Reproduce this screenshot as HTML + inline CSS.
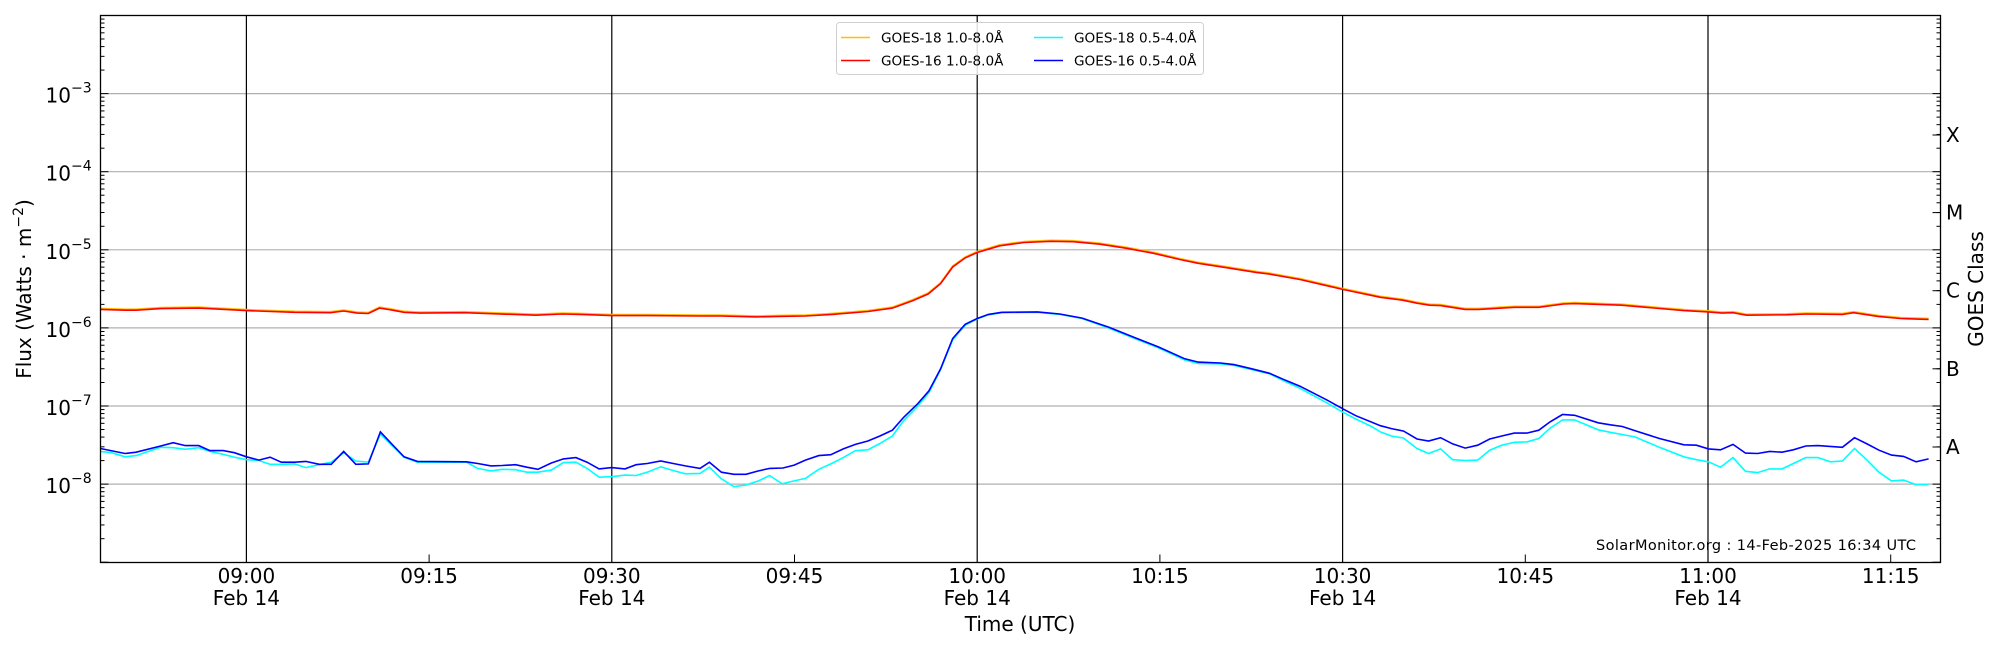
<!DOCTYPE html>
<html><head><meta charset="utf-8"><style>
html,body{margin:0;padding:0;background:#fff;}
svg{display:block;font-family:"DejaVu Sans","Liberation Sans",sans-serif;}
</style></head><body>
<svg id="s" width="2000" height="650" viewBox="0 0 2000 650" xmlns="http://www.w3.org/2000/svg">
<rect width="2000" height="650" fill="#fff"/>
<g id="grid"></g>
<g id="series"></g>
<g id="ticks" stroke="#000" stroke-width="1"></g>
<rect x="100.5" y="15.5" width="1840" height="547" fill="none" stroke="#000" stroke-width="1.3"/>
<g id="labels" font-size="20" fill="#000"></g>
<!-- legend -->
<rect x="836.5" y="22.5" width="367" height="52" rx="3" fill="#fff" fill-opacity="0.85" stroke="#d0d0d0"/>
<line x1="841" y1="37.5" x2="870" y2="37.5" stroke="#ffc000" stroke-width="1.5"/>
<line x1="841" y1="60.5" x2="870" y2="60.5" stroke="#ff0000" stroke-width="1.5"/>
<line x1="1034" y1="37.5" x2="1063" y2="37.5" stroke="#00ffff" stroke-width="1.5"/>
<line x1="1034" y1="60.5" x2="1063" y2="60.5" stroke="#0000ff" stroke-width="1.5"/>
<g font-size="13.6" fill="#000">
<text x="881" y="42.5">GOES-18 1.0-8.0Å</text>
<text x="881" y="65.5">GOES-16 1.0-8.0Å</text>
<text x="1074" y="42.5">GOES-18 0.5-4.0Å</text>
<text x="1074" y="65.5">GOES-16 0.5-4.0Å</text>
</g>
<text x="1596" y="550" font-size="14.5" textLength="320" fill="#000">SolarMonitor.org : 14-Feb-2025 16:34 UTC</text>
<text x="1020" y="631" font-size="20" text-anchor="middle" fill="#000">Time (UTC)</text>
<text transform="translate(31,289) rotate(-90)" font-size="20" text-anchor="middle" fill="#000">Flux (Watts · m<tspan dy="-8" font-size="14">−2</tspan><tspan dy="8">)</tspan></text>
<text transform="translate(1983,289) rotate(-90)" font-size="20" text-anchor="middle" fill="#000">GOES Class</text>
</svg>
<script>
(function(){
var NS="http://www.w3.org/2000/svg";
function el(p,n,a,t){var e=document.createElementNS(NS,n);for(var k in a)e.setAttribute(k,a[k]);if(t!=null)e.textContent=t;p.appendChild(e);return e;}
var L=100.5,R=1940.5,T=15.5,B=562.5;
var dec=78.1, y2=15.5;
function ylog(l){return y2+(-2-l)*dec;}
var grid=document.getElementById('grid'),ticks=document.getElementById('ticks'),lab=document.getElementById('labels'),ser=document.getElementById('series');
for(var e=-8;e<=-3;e++){var y=ylog(e);el(grid,'line',{x1:L,x2:R,y1:y,y2:y,stroke:'#b0b0b0','stroke-width':1.2});
 el(lab,'text',{x:71,y:y+9,'text-anchor':'end'},'10');
 el(lab,'text',{x:71,y:y-1,'font-size':14},'−'+(-e));}
for(var e=-9;e<-2;e++){for(var m=1;m<10;m++){var y=ylog(e+Math.log10(m));if(y<T||y>B)continue;var len=m==1?8:4;
 el(ticks,'line',{x1:L,x2:L+len,y1:y,y2:y});el(ticks,'line',{x1:R,x2:R-len,y1:y,y2:y});}}
var cl=[['X',135],['M',212.6],['C',290.7],['B',368.8],['A',447]];
cl.forEach(function(c){el(ticks,'line',{x1:R,x2:R-8,y1:c[1],y2:c[1]});el(lab,'text',{x:1946,y:c[1]+7},c[0]);});
var x0=246.4,pm=12.18;
var times=['09:00','09:15','09:30','09:45','10:00','10:15','10:30','10:45','11:00','11:15'];
for(var i=0;i<times.length;i++){var x=x0+i*15*pm;
 if(i%2==0){el(grid,'line',{x1:x,x2:x,y1:T,y2:B,stroke:'#000','stroke-width':1.2});el(lab,'text',{x:x,y:605,'text-anchor':'middle'},'Feb 14');}
 else el(ticks,'line',{x1:x,x2:x,y1:B,y2:B-8});
 el(lab,'text',{x:x,y:583,'text-anchor':'middle'},times[i]);}
function P(arr,off){return arr.map(function(p){return (off+p[0]/2.24).toFixed(1)+','+(p[1]/2.408).toFixed(1);}).join(' ');}
var red=P([[225,745],[280,747],[305,747],[360,743],[445,742],[552,748],[660,752],[740,753],[770,749],[800,754],[825,755],[850,742],[875,746],[905,752],[940,754],[1040,753],[1200,759],[1260,756],[1300,757],[1372,760],[1450,760],[1568,761]],0)+' '+
P([[270,761],[350,763],[400,762],[460,761],[520,757],[600,750],[655,742],[700,724],[735,708],[763,683],[790,643],[818,621],[845,608],[870,600],[895,592],[950,584],[1010,581],[1060,582],[1120,588],[1180,598],[1240,610],[1300,625],[1340,634],[1400,644],[1470,656],[1500,660],[1568,673]],600)+' '+
P([[60,688],[97,697],[180,716],[230,723],[262,730],[290,735],[315,736],[370,745],[400,745],[480,740],[535,740],[590,732],[615,731],[720,735],[860,748],[915,751],[945,754],[970,753],[1000,759],[1090,758],[1135,756],[1215,757],[1240,753],[1295,762],[1345,767],[1408,769]],1300);
var blue=P([[225,1080],[280,1092],[305,1089],[360,1074],[388,1066],[415,1073],[445,1073],[470,1085],[500,1085],[525,1090],[552,1100],[580,1108],[605,1101],[630,1113],[660,1113],[685,1111],[715,1118],[742,1118],[770,1087],[797,1118],[825,1117],[852,1040],[880,1072],[905,1100],[935,1111],[1045,1112],[1070,1116],[1100,1122],[1125,1121],[1155,1119],[1180,1125],[1205,1130],[1235,1115],[1262,1105],[1290,1102],[1315,1113],[1342,1129],[1370,1126],[1400,1129],[1425,1119],[1450,1116],[1480,1110],[1508,1116],[1535,1122],[1568,1128]],0)+' '+
P([[245,1113],[272,1137],[300,1142],[327,1142],[355,1134],[380,1128],[410,1127],[435,1120],[460,1108],[490,1097],[517,1095],[545,1081],[572,1070],[600,1062],[627,1050],[655,1036],[680,1005],[710,974],[737,941],[763,888],[790,815],[818,781],[845,767],[870,757],[900,752],[980,751],[1030,756],[1080,766],[1140,788],[1200,814],[1250,835],[1310,864],[1340,872],[1390,874],[1420,878],[1460,888],[1500,899],[1530,913],[1568,930]],600)+' '+
P([[60,963],[97,985],[125,1001],[180,1025],[205,1032],[232,1038],[262,1057],[288,1062],[315,1054],[342,1069],[370,1079],[398,1072],[425,1057],[452,1050],[480,1043],[508,1043],[535,1036],[560,1016],[588,998],[615,1000],[668,1018],[695,1023],[722,1027],[750,1037],[805,1056],[860,1071],[888,1072],[915,1081],[942,1083],[970,1070],[998,1091],[1025,1092],[1052,1087],[1080,1089],[1105,1083],[1133,1074],[1160,1073],[1215,1077],[1242,1054],[1270,1069],[1297,1084],[1325,1096],[1352,1099],[1380,1112],[1408,1105]],1300);
var cyan=P([[225,1087],[250,1090],[280,1100],[305,1097],[330,1088],[360,1077],[388,1078],[415,1082],[445,1078],[470,1087],[500,1094],[525,1101],[552,1107],[580,1109],[605,1118],[630,1118],[660,1117],[685,1126],[715,1119],[742,1113],[770,1090],[797,1110],[825,1113],[852,1045],[880,1075],[905,1101],[935,1113],[1045,1113],[1070,1128],[1100,1134],[1125,1130],[1155,1131],[1180,1137],[1205,1137],[1235,1132],[1262,1114],[1290,1113],[1315,1128],[1342,1149],[1370,1148],[1400,1144],[1425,1145],[1450,1137],[1480,1124],[1508,1133],[1535,1141],[1568,1140]],0)+' '+
P([[245,1125],[272,1153],[300,1172],[327,1168],[355,1158],[380,1145],[408,1165],[435,1158],[460,1152],[490,1130],[517,1117],[545,1102],[572,1085],[600,1083],[627,1068],[655,1050],[680,1013],[710,980],[737,945],[763,890],[790,818],[818,783],[845,768],[870,758],[900,753],[980,752],[1030,757],[1080,767],[1140,790],[1200,816],[1250,837],[1310,867],[1340,875],[1390,876],[1420,880],[1460,890],[1500,900],[1530,916],[1568,935]],600)+' '+
P([[60,970],[97,993],[125,1009],[160,1027],[180,1040],[205,1050],[232,1055],[262,1080],[288,1092],[315,1081],[342,1107],[370,1109],[398,1108],[425,1084],[452,1072],[480,1065],[508,1064],[535,1056],[560,1031],[588,1011],[615,1011],[668,1035],[695,1041],[750,1052],[805,1077],[860,1100],[888,1107],[915,1112],[942,1125],[970,1102],[998,1135],[1025,1138],[1052,1129],[1080,1129],[1133,1102],[1160,1102],[1188,1112],[1215,1110],[1242,1080],[1270,1108],[1297,1137],[1325,1158],[1352,1156],[1380,1167],[1408,1167]],1300);
el(ser,'polyline',{points:red,fill:'none',stroke:'#ffc000','stroke-width':1.6,transform:'translate(0,-1)'});
el(ser,'polyline',{points:red,fill:'none',stroke:'#ff0000','stroke-width':1.6});
el(ser,'polyline',{points:cyan,fill:'none',stroke:'#00ffff','stroke-width':1.6});
el(ser,'polyline',{points:blue,fill:'none',stroke:'#0000ff','stroke-width':1.6});
})();
</script>
</body></html>
